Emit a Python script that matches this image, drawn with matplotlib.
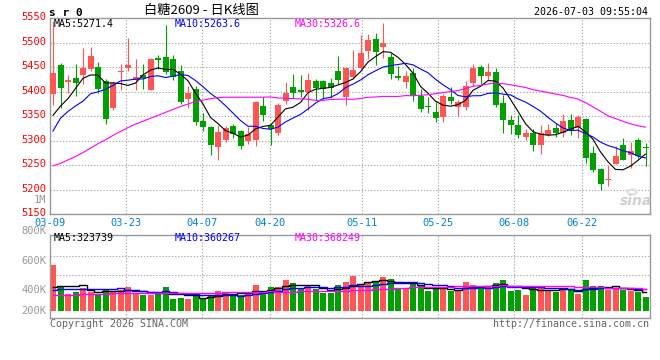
import matplotlib
matplotlib.use("Agg")
import numpy as np
import pandas as pd
import matplotlib.pyplot as plt
from matplotlib.transforms import ScaledTranslation

W, H = 660, 360
RED, GREEN = "#ff5555", "#00a000"
GRID = "#aaaaaa"
BORDER = "#999999"

# ---- daily bars, 2026-03-09 .. 2026-07-03 ----
open_ = [5396, 5454, 5420, 5428, 5435, 5447, 5451, 5423, 5367, 5440,
         5448, 5425, 5434, 5403, 5469, 5471, 5467, 5442, 5386, 5406,
         5340, 5329, 5287, 5301, 5330, 5320, 5299, 5301, 5371, 5333,
         5315, 5381, 5410, 5403, 5399, 5422, 5422, 5418, 5442, 5390,
         5431, 5449, 5483, 5508, 5491, 5471, 5432, 5419, 5439, 5391,
         5371, 5358, 5349, 5390, 5369, 5370, 5418, 5451, 5433, 5441,
         5378, 5342, 5332, 5308, 5316, 5292, 5311, 5326, 5315, 5343,
         5326, 5344, 5275, 5243, 5221, 5252, 5291, 5271, 5301, 5288]
high = [5544, 5458, 5434, 5457, 5490, 5492, 5461, 5427, 5422, 5456,
        5510, 5467, 5456, 5468, 5475, 5536, 5476, 5454, 5412, 5412,
        5357, 5330, 5333, 5330, 5335, 5322, 5328, 5381, 5389, 5335,
        5378, 5420, 5437, 5434, 5439, 5427, 5425, 5429, 5474, 5450,
        5486, 5516, 5517, 5520, 5541, 5480, 5452, 5443, 5449, 5406,
        5390, 5380, 5395, 5409, 5384, 5422, 5456, 5454, 5458, 5449,
        5393, 5352, 5352, 5324, 5324, 5332, 5335, 5337, 5355, 5355,
        5352, 5347, 5289, 5245, 5250, 5289, 5306, 5298, 5306, 5296]
low = [5374, 5366, 5397, 5391, 5415, 5442, 5398, 5335, 5363, 5403,
       5443, 5403, 5405, 5403, 5446, 5437, 5425, 5375, 5366, 5333,
       5321, 5271, 5260, 5298, 5305, 5284, 5294, 5289, 5340, 5292,
       5312, 5375, 5388, 5390, 5362, 5384, 5386, 5388, 5415, 5374,
       5427, 5446, 5466, 5454, 5469, 5427, 5425, 5407, 5382, 5359,
       5357, 5339, 5339, 5375, 5351, 5362, 5411, 5416, 5425, 5369,
       5316, 5313, 5306, 5301, 5279, 5273, 5309, 5307, 5307, 5311,
       5306, 5254, 5237, 5199, 5207, 5252, 5260, 5245, 5265, 5248]
close = [5439, 5408, 5424, 5417, 5449, 5474, 5406, 5344, 5418, 5442,
         5455, 5430, 5428, 5466, 5464, 5440, 5430, 5380, 5398, 5339,
         5329, 5292, 5318, 5326, 5313, 5289, 5313, 5380, 5352, 5324,
         5373, 5397, 5397, 5400, 5424, 5408, 5406, 5407, 5425, 5449,
         5444, 5480, 5505, 5481, 5500, 5437, 5429, 5432, 5393, 5364,
         5368, 5347, 5392, 5382, 5380, 5412, 5449, 5433, 5441, 5374,
         5342, 5332, 5311, 5316, 5292, 5316, 5322, 5316, 5341, 5322,
         5348, 5264, 5241, 5211, 5222, 5270, 5260, 5279, 5270, 5286]
volume_k = [773, 417, 282, 322, 378, 310, 282, 361, 333, 350,
            406, 293, 265, 265, 293, 406, 197, 220, 197, 293,
            192, 265, 338, 322, 282, 265, 322, 434, 338, 406,
            406, 519, 474, 367, 417, 367, 305, 305, 434, 491,
            592, 434, 463, 502, 575, 536, 389, 361, 446, 417,
            338, 378, 367, 338, 338, 491, 434, 395, 395, 474,
            519, 333, 350, 265, 378, 417, 350, 322, 361, 361,
            282, 519, 417, 417, 350, 378, 350, 333, 322, 237]

tick_idx = [0, 10, 20, 29, 41, 51, 61, 70]
tick_labels = ["03-09", "03-23", "04-07", "04-20", "05-11", "05-25", "06-08", "06-22"]

# MA values where the window reaches back before 03-09
ma5_head = [5352, 5371, 5386, 5407]
ma10_head = [5320, 5346, 5360, 5371, 5381, 5396, 5400, 5405, 5413]
ma30_head = [5249, 5254, 5261, 5268, 5276, 5285, 5294, 5302, 5311, 5319,
             5327, 5334, 5340, 5346, 5352, 5358, 5364, 5370, 5375, 5380,
             5383, 5386, 5388, 5389, 5389, 5389, 5389, 5389, 5389]
vma5_head_k = [406, 417, 417, 417]
vma10_head_k = [350, 366, 366, 366, 366, 366, 366, 366, 366]
vma30_head_k = [259, 263, 267, 271, 275, 280, 285, 290, 295, 300,
                302, 304, 305, 305, 305, 305, 305, 305, 305, 305,
                305, 306, 307, 308, 310, 312, 315, 318, 322]

ma_labels = ["MA5:5271.4", "MA10:5263.6", "MA30:5326.6"]
vma_labels = ["MA5:323739", "MA10:360267", "MA30:368249"]
vol_tick_labels = ["800K", "600K", "400K", "200K"]
MA_COLORS = ["black", "#0000ff", "#ff00ff"]


def moving_avg(values, n, head):
    ma = pd.Series(values, dtype=float).rolling(n).mean().to_numpy()
    ma[:n - 1] = head
    return ma


def box(x0, y0, x1, y1):
    return [x0 / W, 1 - y1 / H, (x1 - x0) / W, (y1 - y0) / H]


def ftext(x, y, s, **kw):
    kw.setdefault("va", "center")
    kw.setdefault("family", "DejaVu Sans Mono")
    kw.setdefault("fontsize", 7.2)
    fig.text(x / W, 1 - y / H, s, **kw)


plt.rcParams["font.family"] = ["DejaVu Sans Mono"]

o = np.array(open_, float)
c = np.array(close, float)
hi = np.array(high, float)
lo = np.array(low, float)
vol = np.array(volume_k, float) * 1000
x = np.arange(len(c))
colors = np.where(c >= o, RED, GREEN)

ma = [moving_avg(c, 5, ma5_head), moving_avg(c, 10, ma10_head), moving_avg(c, 30, ma30_head)]
vma = [moving_avg(vol, 5, np.array(vma5_head_k) * 1000),
       moving_avg(vol, 10, np.array(vma10_head_k) * 1000),
       moving_avg(vol, 30, np.array(vma30_head_k) * 1000)]

# Sina's date grid runs a touch wider than the candle spacing
tick_pos = [i * 7.6 / 7.5 - 0.4 for i in tick_idx]
xlim = (-0.4, len(c) - 0.4)

fig = plt.figure(figsize=(W / 100, H / 100), dpi=100)

# ---- price panel ----
ax = fig.add_axes(box(50, 18.3, 650, 214.3))
ax.set_xlim(*xlim)
ax.set_ylim(5150, 5550)
for y in range(5200, 5501, 50):
    ax.axhline(y, color=GRID, lw=0.8, ls=(0, (1.2, 1.6)), zorder=0)
for t in tick_pos[1:]:
    ax.axvline(t, color=GRID, lw=0.8, ls=(0, (1.2, 1.6)), zorder=0)

ax.vlines(x, lo, hi, colors=colors, lw=0.8, zorder=2)
body_lo = np.minimum(o, c)
body_h = np.maximum(np.abs(c - o), 2.0)
ax.bar(x, body_h, bottom=body_lo, width=0.8, color=colors, lw=0, zorder=3)
for m, col in zip(ma, MA_COLORS):
    ax.plot(x, m, color=col, lw=0.8, zorder=4)

ax.set_yticks(range(5150, 5551, 50))
ax.tick_params(axis="y", length=0, pad=3, labelsize=7.5, labelcolor="#ff0000")
# price labels sit a couple of pixels above their grid line
lift = ScaledTranslation(0, 2 / 100, fig.dpi_scale_trans)
for lab in ax.get_yticklabels():
    lab.set_transform(lab.get_transform() + lift)
ax.set_xticks(tick_pos)
ax.set_xticklabels(tick_labels)
ax.tick_params(axis="x", length=0, pad=2.5, labelsize=7.5, labelcolor="#0080e0")
for s in ax.spines.values():
    s.set_color(BORDER)
    s.set_linewidth(1.0)

# ---- volume panel ----
VOL_PER_PX = 16920


def vol_at(y_px):
    return (310.7 - y_px) * VOL_PER_PX


axv = fig.add_axes(box(50, 234.7, 650, 318.3))
axv.set_xlim(*xlim)
axv.set_ylim(vol_at(318.3), vol_at(234.7))
for y in (255.7, 275.0):
    axv.axhline(vol_at(y), color=GRID, lw=0.8, ls=(0, (1.2, 1.6)), zorder=0)
for t in tick_pos[1:]:
    axv.axvline(t, color=GRID, lw=0.8, ls=(0, (1.2, 1.6)), zorder=0)
axv.bar(x, vol, width=0.8, color=colors, lw=0, zorder=2)
for m, col in zip(vma, MA_COLORS):
    axv.plot(x, m, color=col, lw=1.0, drawstyle="steps-mid", zorder=3)
axv.set_xticks([])
axv.set_yticks([])
for s in axv.spines.values():
    s.set_color(BORDER)
    s.set_linewidth(1.0)

# ---- texts ----
ftext(49, 12.5, "s r 0", fontsize=8, fontweight="bold")
ftext(201, 10, "白糖2609 - 日K线图", family=["Noto Sans CJK SC", "DejaVu Sans"], fontsize=9.5, ha="center")
ftext(648, 12.3, "2026-07-03 09:55:04", ha="right")
for lx, s, col in zip((54, 175, 295), ma_labels, MA_COLORS):
    ftext(lx, 24, s, color=col)
for lx, s, col in zip((54, 175, 295), vma_labels, MA_COLORS):
    ftext(lx, 238.3, s, color=col)
ftext(46.5, 200, "1M", ha="right", color="#999999", fontsize=7.5)
for y, s in zip((231, 261, 290, 310.5), vol_tick_labels):
    ftext(46.5, y, s, ha="right", color="#999999", fontsize=7.5)
ftext(50, 323.7, "Copyright 2026 SINA.COM", color="#666666")
ftext(649, 323.7, "http://finance.sina.com.cn", ha="right", color="#666666")
# faint sina watermark: eye + wordmark
fig.add_artist(plt.Circle((632 / W, 1 - 192 / H), 4.5 / W, transform=fig.transFigure,
                          fill=False, ec="#dddddd", lw=1.5))
ftext(636, 201, "sina", ha="center", color="#d0d0d0", family="DejaVu Sans",
      fontsize=10, fontweight="bold", style="italic")

fig.savefig("out.png", dpi=100)
